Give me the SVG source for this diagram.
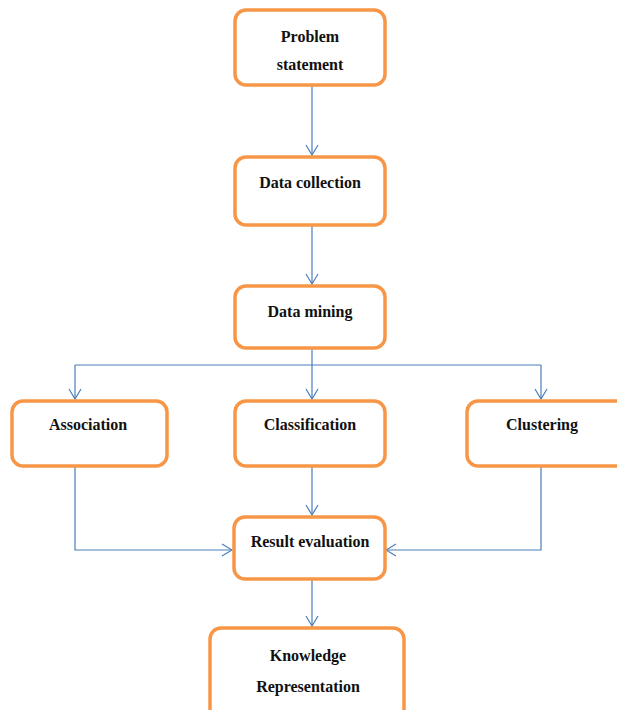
<svg xmlns="http://www.w3.org/2000/svg" width="617" height="710" viewBox="0 0 617 710">
<style>
.box{fill:#fff;stroke:#F79646;stroke-width:3.5}
.t{font-family:"Liberation Serif",serif;font-weight:bold;font-size:16px;fill:#111;text-anchor:middle}
.c{fill:none;stroke:#4A7EBB;stroke-width:1.2}
</style>
<defs>
<marker id="a" markerWidth="12" markerHeight="14" refX="11" refY="7" orient="auto" markerUnits="userSpaceOnUse">
<path d="M1,1 L11,7 L1,13" fill="none" stroke="#4A7EBB" stroke-width="1.2"/>
</marker>
</defs>
<rect width="617" height="710" fill="#fff"/>
<g id="connectors">
<path class="c" d="M312,86 V155" marker-end="url(#a)"/>
<path class="c" d="M312,226 V284" marker-end="url(#a)"/>
<path class="c" d="M312,349 V399" marker-end="url(#a)"/>
<path class="c" d="M75,365 H541"/>
<path class="c" d="M75,365 V399" marker-end="url(#a)"/>
<path class="c" d="M541,365 V399" marker-end="url(#a)"/>
<path class="c" d="M312,467 V515" marker-end="url(#a)"/>
<path class="c" d="M75,467 V550 H232" marker-end="url(#a)"/>
<path class="c" d="M541,467 V550 H386" marker-end="url(#a)"/>
<path class="c" d="M312,580 V626" marker-end="url(#a)"/>
</g>
<g id="problem"><rect class="box" x="235" y="10" width="150" height="75" rx="11"/><text class="t" x="310" y="42">Problem</text><text class="t" x="310" y="70">statement</text></g>
<g id="collection"><rect class="box" x="235" y="157" width="150" height="68" rx="11"/><text class="t" x="310" y="188">Data collection</text></g>
<g id="mining"><rect class="box" x="235" y="286" width="150" height="62" rx="11"/><text class="t" x="310" y="317">Data mining</text></g>
<g id="association"><rect class="box" x="12" y="401" width="155" height="65" rx="11"/><text class="t" x="88" y="430">Association</text></g>
<g id="classification"><rect class="box" x="235" y="401" width="150" height="65" rx="11"/><text class="t" x="310" y="430">Classification</text></g>
<g id="clustering"><rect class="box" x="467" y="401" width="165" height="65" rx="11"/><text class="t" x="542" y="430">Clustering</text></g>
<g id="result"><rect class="box" x="234" y="517" width="151" height="62" rx="11"/><text class="t" x="310" y="547">Result evaluation</text></g>
<g id="knowledge"><rect class="box" x="210" y="628" width="194" height="95" rx="11"/><text class="t" x="308" y="661">Knowledge</text><text class="t" x="308" y="692">Representation</text></g>
</svg>
